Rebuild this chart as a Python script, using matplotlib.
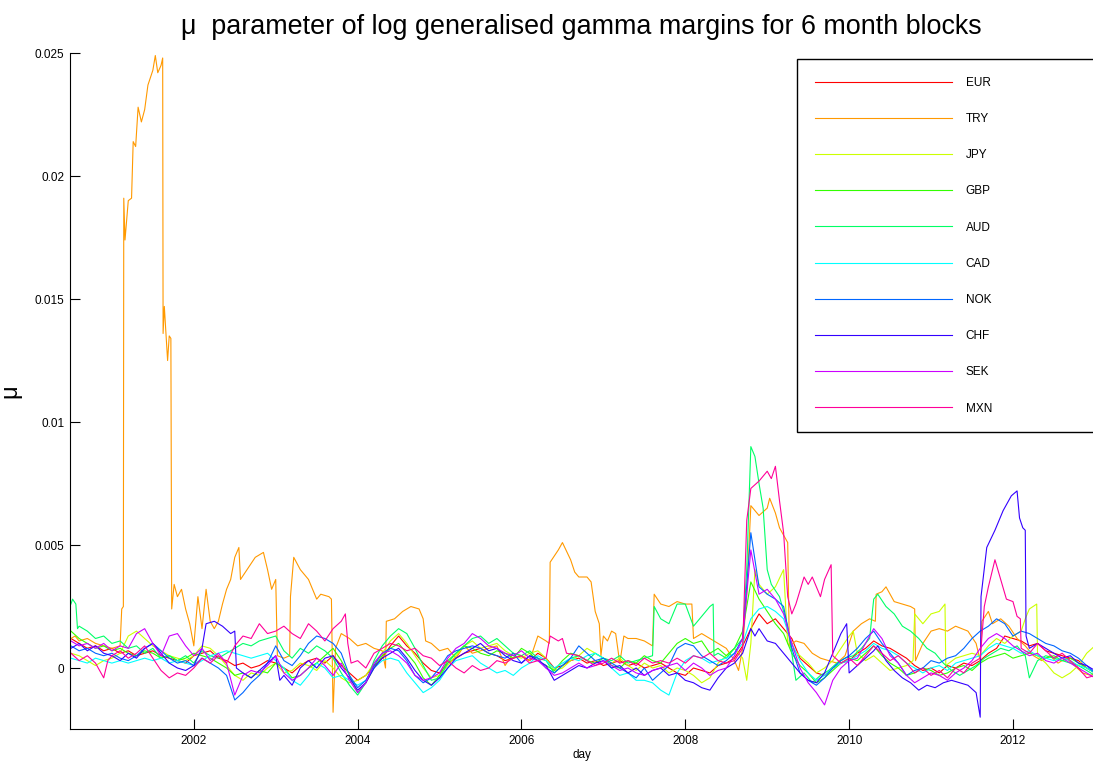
import matplotlib
matplotlib.use("Agg")
import matplotlib.pyplot as plt
import numpy as np
from matplotlib.ticker import FuncFormatter

plt.rcParams['font.family'] = ['Liberation Sans', 'DejaVu Sans']

# mu values in units of 1e-3
currencies = ['EUR', 'TRY', 'JPY', 'GBP', 'AUD', 'CAD', 'NOK', 'CHF', 'SEK', 'MXN']
colors = ['#ff0000', '#ff9900', '#ccff00', '#33ff00', '#00ff66',
          '#00ffff', '#0066ff', '#3300ff', '#cc00ff', '#ff0099']

# sampling dates (decimal years) for the quieter series
grid = np.round(np.arange(2000.5, 2013.0001, 0.1), 2)

eur = [1.2, 1.0, 0.8, 0.9, 0.7, 0.8, 0.6, 0.7, 0.5, 0.6,
       0.7, 0.5, 0.4, 0.3, 0.2, 0.5, 0.6, 0.7, 0.4, 0.3,
       0.1, 0.2, 0.0, 0.1, 0.3, 0.2, 0.0, -0.2, 0.1, 0.3,
       0.4, 0.2, 0.5, 0.1, -0.2, -0.5, -0.3, 0.1, 0.4, 0.9,
       1.3, 0.9, 0.6, 0.2, -0.1, -0.2, 0.2, 0.4, 0.6, 0.7,
       0.8, 0.6, 0.5, 0.3, 0.4, 0.5, 0.3, 0.6, 0.4, 0.0,
       0.1, 0.3, 0.4, 0.2, 0.3, 0.1, 0.2, 0.3, 0.1, 0.2,
       0.0, 0.1, 0.2, 0.0, -0.2, -0.3, 0.0, -0.1, -0.2, 0.1,
       0.2, 0.4, 0.9, 1.6, 2.2, 1.8, 2.0, 1.6, 1.2, 0.4,
       0.1, -0.2, -0.3, 0.0, 0.2, 0.3, 0.6, 0.8, 1.1, 0.9,
       0.8, 0.6, 0.4, 0.1, -0.1, 0.0, -0.2, 0.1, 0.0, 0.2,
       0.1, 0.3, 0.6, 0.8, 1.3, 1.2, 1.1, 0.9, 1.0, 0.7,
       0.6, 0.5, 0.4, 0.3, 0.0, -0.2]

gbp = [1.5, 1.2, 1.0, 0.8, 0.9, 0.7, 0.8, 0.6, 0.5, 0.7,
       0.6, 0.4, 0.5, 0.3, 0.4, 0.6, 0.5, 0.4, 0.2, 0.0,
       -0.3, -0.2, -0.4, -0.1, -0.2, 0.2, 0.0, -0.4, -0.3, 0.0,
       0.2, 0.5, 0.8, 0.3, -0.3, -1.0, -0.6, 0.0, 0.5, 0.8,
       1.0, 0.6, 0.2, -0.4, -0.7, -0.3, 0.3, 0.6, 0.9, 0.8,
       0.6, 0.5, 0.7, 0.6, 0.4, 0.8, 0.6, 0.3, 0.1, -0.1,
       0.3, 0.6, 0.5, 0.3, 0.2, 0.4, 0.1, 0.0, 0.3, 0.2,
       0.5, 0.3, 0.2, 0.6, 1.0, 1.2, 1.0, 1.1, 0.6, 0.8,
       0.5, 0.8, 1.5, 3.5, 2.8, 2.3, 1.8, 1.4, 0.6, 0.1,
       -0.2, -0.6, -0.4, -0.1, 0.2, 0.4, 0.3, 0.6, 0.9, 0.5,
       0.2, 0.0, -0.3, -0.2, 0.0, -0.1, -0.3, -0.2, 0.0, 0.1,
       -0.1, 0.2, 0.4, 0.5, 0.6, 0.4, 0.5, 0.6, 0.5, 0.4,
       0.5, 0.3, 0.4, 0.2, 0.0, -0.2]

cad = [0.4, 0.3, 0.2, 0.4, 0.3, 0.2, 0.3, 0.2, 0.3, 0.4,
       0.3, 0.4, 0.2, 0.3, 0.2, 0.1, 0.3, 0.5, 0.6, 0.7,
       0.6, 0.5, 0.4, 0.5, 0.6, 0.3, 0.0, -0.5, -0.7, -0.3,
       0.2, 0.0, -0.4, -0.3, -0.5, -0.7, -0.5, 0.0, 0.3, 0.4,
       0.3, -0.2, -0.6, -1.0, -0.8, -0.5, 0.0, 0.3, 0.4, 0.5,
       0.2, 0.0, -0.2, -0.1, -0.3, 0.0, 0.2, 0.5, 0.3, 0.0,
       0.2, 0.4, 0.3, 0.5, 0.6, 0.4, 0.0, -0.3, -0.2, -0.5,
       -0.5, -0.6, -0.9, -1.1, -0.2, 0.3, 0.5, 0.4, 0.2, 0.3,
       0.4, 0.6, 1.0, 2.0, 2.4, 2.5, 2.3, 2.0, 1.0, 0.3,
       -0.2, -0.5, -0.3, 0.0, 0.2, 0.3, 0.5, 0.7, 1.0, 0.8,
       0.7, 0.5, 0.2, 0.0, -0.2, 0.0, 0.1, -0.1, 0.2, 0.3,
       0.4, 0.5, 0.8, 1.0, 0.9, 0.8, 0.6, 0.7, 0.5, 0.4,
       0.3, 0.4, 0.3, 0.1, 0.0, -0.2]

nok = [0.9, 0.7, 0.8, 0.6, 0.5, 0.6, 0.4, 0.3, 0.5, 0.8,
       1.0, 0.7, 0.4, 0.2, 0.3, 0.1, 0.4, 0.2, 0.0, -0.3,
       -1.3, -1.0, -0.6, -0.3, 0.2, 0.9, 0.3, 0.1, 0.5, 1.0,
       1.3, 1.2, 1.0, 0.6, -0.3, -0.8, -0.5, 0.1, 0.6, 0.8,
       0.7, 0.3, -0.3, -0.6, -0.4, 0.0, 0.5, 0.7, 0.8, 0.9,
       0.8, 0.6, 0.5, 0.4, 0.6, 0.2, 0.5, 0.4, 0.0, -0.2,
       0.1, 0.4, 0.9, 0.6, 0.3, 0.4, 0.2, 0.0, -0.2, -0.4,
       0.0, -0.5, -0.2, 0.1, 0.8, 1.0, 0.9, 0.5, 0.3, 0.1,
       0.3, 0.6, 1.2, 5.5, 3.3, 3.0, 2.8, 2.5, 0.8, -0.2,
       -0.5, -0.7, -0.4, 0.0, 0.3, 0.5, 0.8, 1.2, 1.5, 1.0,
       0.6, 0.2, -0.3, -0.1, 0.0, 0.3, 0.2, 0.4, 0.5, 0.8,
       1.2, 1.5, 1.7, 2.0, 1.8, 1.3, 1.5, 1.4, 1.2, 1.0,
       0.9, 0.7, 0.6, 0.4, 0.1, -0.2]

sek = [1.1, 0.9, 1.0, 0.8, 1.0, 0.7, 0.9, 0.8, 1.4, 1.6,
       1.0, 0.5, 1.3, 1.4, 0.9, 0.5, 0.8, 0.3, 0.6, 0.2,
       -1.1, -0.3, -0.1, -0.2, 0.1, 0.5, -0.2, -0.5, -0.3, 0.0,
       0.4, 0.1, -0.3, 0.2, -0.5, -1.0, -0.6, 0.2, 0.6, 0.7,
       0.5, 0.2, -0.3, -0.5, -0.4, -0.2, 0.4, 0.8, 1.0, 1.4,
       1.2, 0.9, 0.8, 0.6, 0.5, 0.7, 0.4, 0.3, 0.0, -0.3,
       -0.2, 0.0, 0.2, 0.0, 0.1, 0.3, 0.1, -0.1, 0.0, -0.2,
       -0.3, -0.1, 0.0, 0.1, 0.2, -0.1, 0.2, 0.0, -0.3, -0.1,
       0.0, 0.5, 1.2, 4.8, 3.0, 3.2, 2.8, 2.2, 1.0, 0.0,
       -0.6, -1.0, -1.5, -0.5, 0.0, 0.3, 0.4, 1.0, 1.6, 1.2,
       0.5, 0.2, -0.3, -0.6, -0.4, -0.2, -0.3, -0.5, -0.2, 0.0,
       0.3, 0.8, 1.2, 1.4, 1.2, 0.9, 0.7, 0.5, 0.6, 0.3,
       0.2, 0.4, 0.2, 0.0, -0.2, -0.4]

# series with jumps: (year, value) pairs
try_pts = [(2000.5, 1.2), (2000.55, 1.3), (2000.6, 1.1), (2000.7, 1.2), (2000.8, 1.0),
           (2000.9, 0.9), (2001.0, 0.8), (2001.1, 0.9), (2001.12, 2.4), (2001.14, 2.5),
           (2001.145, 19.1), (2001.16, 17.4), (2001.18, 18.2), (2001.2, 19.0), (2001.24, 19.1),
           (2001.26, 21.4), (2001.29, 21.2), (2001.32, 22.8), (2001.36, 22.2), (2001.4, 22.7),
           (2001.44, 23.7), (2001.48, 24.1), (2001.5, 24.3), (2001.53, 24.9), (2001.56, 24.2),
           (2001.6, 24.5), (2001.62, 24.8), (2001.625, 13.6), (2001.64, 14.7), (2001.68, 12.5),
           (2001.7, 13.5), (2001.72, 13.4), (2001.73, 2.4), (2001.76, 3.4), (2001.8, 2.9),
           (2001.85, 3.2), (2001.9, 2.4), (2001.95, 1.8), (2002.0, 0.9), (2002.05, 2.9),
           (2002.1, 1.6), (2002.15, 3.2), (2002.2, 1.9), (2002.25, 1.6), (2002.3, 1.9),
           (2002.35, 2.6), (2002.4, 3.2), (2002.45, 3.6), (2002.5, 4.5), (2002.55, 4.9),
           (2002.57, 3.6), (2002.65, 4.0), (2002.75, 4.5), (2002.85, 4.7), (2002.9, 4.0),
           (2002.95, 3.2), (2003.0, 3.6), (2003.02, 0.5), (2003.1, 0.4), (2003.17, 0.5),
           (2003.18, 2.9), (2003.22, 4.5), (2003.3, 4.0), (2003.4, 3.6), (2003.5, 2.8),
           (2003.55, 3.0), (2003.65, 2.9), (2003.68, 2.8), (2003.7, -1.8), (2003.73, 0.8),
           (2003.8, 1.4), (2003.9, 1.2), (2004.0, 0.9), (2004.1, 1.0), (2004.2, 0.8),
           (2004.3, 0.7), (2004.34, 0.0), (2004.35, 1.9), (2004.45, 2.0), (2004.55, 2.3),
           (2004.65, 2.5), (2004.75, 2.4), (2004.8, 2.0), (2004.83, 1.1), (2004.9, 1.0),
           (2005.0, 0.7), (2005.1, 0.8), (2005.2, 0.4), (2005.3, 0.9), (2005.4, 0.6),
           (2005.5, 0.7), (2005.6, 0.8), (2005.7, 0.9), (2005.8, 0.1), (2005.9, 0.6),
           (2006.0, 0.5), (2006.1, 0.3), (2006.2, 1.3), (2006.3, 1.1), (2006.34, 1.0),
           (2006.35, 4.3), (2006.45, 4.8), (2006.5, 5.1), (2006.6, 4.4), (2006.65, 3.9),
           (2006.7, 3.7), (2006.8, 3.7), (2006.85, 3.5), (2006.9, 2.3), (2006.95, 1.8),
           (2006.97, 0.5), (2007.0, 1.3), (2007.05, 1.1), (2007.1, 1.5), (2007.15, 1.4),
           (2007.2, 0.2), (2007.25, 1.3), (2007.3, 1.2), (2007.4, 1.2), (2007.5, 1.1),
           (2007.6, 0.9), (2007.62, 3.0), (2007.7, 2.6), (2007.8, 2.5), (2007.9, 2.7),
           (2008.0, 2.6), (2008.08, 2.6), (2008.1, 1.2), (2008.2, 1.4), (2008.3, 1.2),
           (2008.4, 1.0), (2008.5, 0.8), (2008.6, 0.3), (2008.65, -0.1), (2008.7, 0.8),
           (2008.75, 3.0), (2008.8, 6.6), (2008.9, 6.2), (2009.0, 6.5), (2009.03, 6.9),
           (2009.1, 6.3), (2009.15, 5.7), (2009.25, 5.1), (2009.27, 0.9), (2009.35, 1.1),
           (2009.45, 1.0), (2009.55, 0.6), (2009.65, 0.4), (2009.75, 0.3), (2009.85, 0.2),
           (2009.95, 0.5), (2010.05, 1.5), (2010.15, 1.8), (2010.25, 2.0), (2010.32, 1.9),
           (2010.33, 3.0), (2010.4, 3.1), (2010.45, 3.3), (2010.55, 2.7), (2010.65, 2.6),
           (2010.75, 2.5), (2010.8, 2.4), (2010.81, 0.3), (2010.9, 1.0), (2011.0, 1.5),
           (2011.1, 1.6), (2011.2, 1.5), (2011.3, 1.7), (2011.45, 1.5), (2011.55, 1.0),
           (2011.6, 0.3), (2011.62, 1.9), (2011.7, 2.3), (2011.75, 1.8), (2011.85, 2.0),
           (2011.95, 1.7), (2012.05, 1.2), (2012.15, 0.9), (2012.25, 0.5), (2012.35, 0.3),
           (2012.45, 0.5), (2012.55, 0.2), (2012.65, 0.4), (2012.75, 0.1), (2012.85, -0.2),
           (2012.95, -0.3), (2013.0, -0.2)]

jpy_pts = [(2000.5, 0.6), (2000.6, 0.5), (2000.7, 0.3), (2000.8, 0.1), (2000.9, 0.3),
           (2001.0, 0.4), (2001.1, 0.6), (2001.2, 1.3), (2001.3, 1.5), (2001.4, 1.2),
           (2001.5, 0.9), (2001.6, 0.7), (2001.7, 0.5), (2001.8, 0.4), (2001.9, 0.3),
           (2002.0, 0.5), (2002.1, 0.9), (2002.2, 0.8), (2002.3, 0.5), (2002.4, 0.1),
           (2002.5, -0.3), (2002.6, -0.5), (2002.7, -0.2), (2002.8, -0.3), (2002.9, 0.0),
           (2003.0, 0.2), (2003.1, -0.2), (2003.2, -0.1), (2003.3, 0.2), (2003.4, 0.1),
           (2003.5, -0.1), (2003.6, 0.3), (2003.7, 0.0), (2003.8, -0.4), (2003.9, -0.6),
           (2004.0, -0.5), (2004.1, -0.3), (2004.2, 0.2), (2004.3, 0.6), (2004.4, 1.1),
           (2004.5, 1.4), (2004.6, 1.0), (2004.7, 0.5), (2004.8, 0.0), (2004.9, -0.4),
           (2005.0, -0.3), (2005.1, 0.1), (2005.2, 0.5), (2005.3, 0.9), (2005.4, 1.1),
           (2005.5, 0.8), (2005.6, 0.9), (2005.7, 1.0), (2005.8, 0.7), (2005.9, 0.5),
           (2006.0, 0.4), (2006.1, 0.6), (2006.2, 0.7), (2006.3, 0.4), (2006.4, -0.1),
           (2006.5, 0.0), (2006.6, 0.3), (2006.7, 0.5), (2006.8, 0.8), (2006.9, 0.6),
           (2007.0, 0.4), (2007.1, 0.2), (2007.2, 0.4), (2007.3, 0.1), (2007.4, -0.1),
           (2007.5, 0.2), (2007.6, 0.0), (2007.7, 0.1), (2007.8, -0.2), (2007.9, 0.0),
           (2008.0, -0.1), (2008.1, -0.3), (2008.2, -0.6), (2008.3, -0.4), (2008.4, 0.2),
           (2008.5, 0.5), (2008.6, 0.8), (2008.7, 0.4), (2008.75, -0.5), (2008.8, 1.0),
           (2008.85, 4.0), (2008.9, 3.4), (2009.0, 3.0), (2009.1, 3.3), (2009.2, 4.0),
           (2009.25, 1.0), (2009.3, 0.8), (2009.4, 0.5), (2009.5, 0.2), (2009.6, -0.2),
           (2009.7, 0.0), (2009.8, 0.3), (2009.9, 0.8), (2010.0, 1.3), (2010.05, 1.5),
           (2010.1, 0.6), (2010.2, 0.3), (2010.3, 0.5), (2010.4, 0.2), (2010.5, -0.1),
           (2010.6, 0.0), (2010.7, 0.1), (2010.78, 0.3), (2010.8, 2.2), (2010.9, 1.8),
           (2011.0, 2.2), (2011.1, 2.3), (2011.17, 2.6), (2011.18, 0.1), (2011.3, 0.4),
           (2011.4, 0.5), (2011.5, 0.6), (2011.6, 0.5), (2011.7, 0.9), (2011.8, 1.2),
           (2011.9, 1.0), (2012.0, 1.3), (2012.1, 1.5), (2012.15, 2.0), (2012.2, 2.4),
           (2012.29, 2.6), (2012.3, 0.5), (2012.4, 0.2), (2012.5, -0.2), (2012.6, -0.4),
           (2012.7, -0.2), (2012.8, 0.1), (2012.9, 0.6), (2013.0, 0.9)]

aud_pts = [(2000.5, 2.6), (2000.52, 2.8), (2000.56, 2.6), (2000.58, 1.6), (2000.6, 1.7),
           (2000.7, 1.5), (2000.8, 1.2), (2000.9, 1.3), (2001.0, 1.0), (2001.1, 1.1),
           (2001.2, 0.8), (2001.3, 0.9), (2001.4, 0.6), (2001.5, 0.8), (2001.6, 0.4),
           (2001.7, 0.5), (2001.8, 0.3), (2001.9, 0.5), (2002.0, 0.2), (2002.1, 0.7),
           (2002.2, 0.5), (2002.3, 0.4), (2002.4, 0.6), (2002.5, 0.8), (2002.6, 1.0),
           (2002.7, 0.9), (2002.8, 1.1), (2002.9, 1.2), (2003.0, 1.3), (2003.1, 0.7),
           (2003.2, 0.4), (2003.3, 0.8), (2003.4, 0.6), (2003.5, 0.9), (2003.6, 0.7),
           (2003.7, 0.4), (2003.8, -0.2), (2003.9, -0.7), (2004.0, -1.1), (2004.1, -0.6),
           (2004.2, 0.3), (2004.3, 0.9), (2004.4, 1.3), (2004.5, 1.6), (2004.6, 1.4),
           (2004.7, 0.8), (2004.8, 0.1), (2004.9, -0.5), (2005.0, -0.4), (2005.1, 0.2),
           (2005.2, 0.6), (2005.3, 0.9), (2005.4, 1.2), (2005.5, 1.3), (2005.6, 1.0),
           (2005.7, 1.2), (2005.8, 0.9), (2005.9, 0.6), (2006.0, 0.5), (2006.1, 0.7),
           (2006.2, 0.4), (2006.3, 0.3), (2006.4, -0.2), (2006.5, 0.1), (2006.6, 0.4),
           (2006.7, 0.5), (2006.8, 0.3), (2006.9, 0.6), (2007.0, 0.4), (2007.1, 0.3),
           (2007.2, 0.5), (2007.3, 0.2), (2007.4, 0.3), (2007.5, 0.4), (2007.6, 0.5),
           (2007.62, 2.5), (2007.7, 2.0), (2007.8, 1.8), (2007.9, 2.6), (2008.0, 2.6),
           (2008.1, 1.7), (2008.2, 2.1), (2008.3, 2.5), (2008.34, 2.6), (2008.35, 0.5),
           (2008.4, 0.6), (2008.5, 0.4), (2008.6, 0.8), (2008.7, 1.2), (2008.75, 4.0),
           (2008.8, 9.0), (2008.85, 8.6), (2008.9, 7.5), (2008.95, 6.5), (2009.0, 4.0),
           (2009.05, 3.4), (2009.15, 2.9), (2009.25, 1.7), (2009.35, -0.5), (2009.45, -0.2),
           (2009.55, -0.6), (2009.65, -0.3), (2009.75, -0.1), (2009.85, 0.2), (2009.95, 0.4),
           (2010.05, 0.5), (2010.15, 0.8), (2010.25, 1.2), (2010.3, 2.8), (2010.35, 3.0),
           (2010.45, 2.5), (2010.55, 2.2), (2010.65, 1.7), (2010.75, 1.5), (2010.85, 1.2),
           (2010.95, 0.8), (2011.05, 0.6), (2011.15, 0.2), (2011.25, -0.1), (2011.35, -0.3),
           (2011.45, -0.1), (2011.55, 0.1), (2011.65, 0.4), (2011.75, 0.6), (2011.85, 0.8),
           (2011.95, 0.7), (2012.05, 0.9), (2012.15, 0.5), (2012.2, -0.4), (2012.3, 0.3),
           (2012.4, 0.5), (2012.5, 0.4), (2012.6, 0.3), (2012.7, 0.2), (2012.8, 0.1),
           (2012.9, -0.1), (2013.0, -0.3)]

chf_pts = [(2000.5, 0.8), (2000.6, 1.0), (2000.7, 0.7), (2000.8, 0.9), (2000.9, 0.6),
           (2001.0, 0.5), (2001.1, 0.3), (2001.2, 0.6), (2001.3, 0.4), (2001.4, 0.8),
           (2001.5, 1.0), (2001.6, 0.6), (2001.7, 0.2), (2001.8, 0.0), (2001.9, -0.1),
           (2002.0, 0.1), (2002.1, 0.8), (2002.15, 1.8), (2002.25, 1.9), (2002.35, 1.7),
           (2002.45, 1.4), (2002.5, 1.5), (2002.52, 0.0), (2002.6, -0.2), (2002.7, -0.4),
           (2002.8, -0.1), (2002.9, 0.2), (2003.0, 0.5), (2003.05, -0.5), (2003.1, -0.3),
           (2003.2, -0.7), (2003.3, 0.0), (2003.4, 0.3), (2003.5, 0.0), (2003.6, 0.4),
           (2003.7, 0.5), (2003.8, 0.0), (2003.9, -0.4), (2004.0, -0.9), (2004.1, -0.6),
           (2004.2, 0.0), (2004.3, 0.4), (2004.4, 0.6), (2004.5, 0.8), (2004.6, 0.4),
           (2004.7, -0.1), (2004.8, -0.5), (2004.9, -0.7), (2005.0, -0.4), (2005.1, 0.0),
           (2005.2, 0.4), (2005.3, 0.6), (2005.4, 0.8), (2005.5, 1.0), (2005.6, 0.7),
           (2005.7, 0.8), (2005.8, 0.5), (2005.9, 0.3), (2006.0, 0.2), (2006.1, 0.5),
           (2006.2, 0.3), (2006.3, 0.1), (2006.4, -0.5), (2006.5, -0.3), (2006.6, -0.1),
           (2006.7, 0.1), (2006.8, 0.0), (2006.9, 0.2), (2007.0, 0.3), (2007.1, 0.0),
           (2007.2, 0.1), (2007.3, -0.2), (2007.4, 0.0), (2007.5, -0.3), (2007.6, -0.1),
           (2007.7, 0.0), (2007.8, -0.3), (2007.9, -0.2), (2008.0, -0.5), (2008.1, -0.6),
           (2008.2, -0.8), (2008.3, -0.9), (2008.4, -0.4), (2008.5, 0.0), (2008.6, 0.2),
           (2008.7, 0.6), (2008.8, 1.6), (2008.85, 1.3), (2008.9, 1.6), (2009.0, 1.1),
           (2009.1, 1.0), (2009.2, 0.6), (2009.3, 0.2), (2009.4, -0.2), (2009.5, -0.5),
           (2009.6, -0.6), (2009.7, -0.2), (2009.8, 0.6), (2009.9, 1.4), (2009.97, 1.8),
           (2010.0, -0.2), (2010.1, 0.1), (2010.2, 0.4), (2010.3, 0.7), (2010.35, 0.9),
           (2010.45, 0.3), (2010.55, -0.1), (2010.65, -0.4), (2010.75, -0.6), (2010.85, -0.9),
           (2010.95, -0.7), (2011.05, -0.8), (2011.15, -0.6), (2011.25, -0.5), (2011.35, -0.6),
           (2011.45, -0.7), (2011.55, -1.0), (2011.6, -2.0), (2011.61, 2.9), (2011.68, 4.9),
           (2011.78, 5.6), (2011.88, 6.4), (2011.98, 7.0), (2012.05, 7.2), (2012.08, 6.1),
           (2012.12, 5.7), (2012.15, 5.6), (2012.16, 1.3), (2012.2, 0.8), (2012.3, 1.0),
           (2012.4, 0.8), (2012.5, 0.6), (2012.6, 0.4), (2012.7, 0.5), (2012.8, 0.2),
           (2012.9, 0.1), (2013.0, -0.1)]

mxn_pts = [(2000.5, 0.6), (2000.6, 0.3), (2000.7, 0.5), (2000.8, 0.2), (2000.9, -0.4),
           (2000.95, 0.3), (2001.0, 0.5), (2001.1, 0.7), (2001.2, 0.4), (2001.3, 0.6),
           (2001.4, 0.9), (2001.5, 0.4), (2001.6, -0.1), (2001.7, -0.4), (2001.8, -0.2),
           (2001.9, -0.3), (2002.0, 0.0), (2002.1, 0.4), (2002.2, 0.2), (2002.3, 0.5),
           (2002.4, 0.2), (2002.5, 0.9), (2002.6, 1.3), (2002.7, 1.2), (2002.8, 1.8),
           (2002.9, 1.4), (2003.0, 1.5), (2003.1, 1.7), (2003.2, 1.4), (2003.3, 1.2),
           (2003.4, 1.8), (2003.5, 1.5), (2003.6, 1.1), (2003.7, 1.6), (2003.8, 1.9),
           (2003.85, 2.2), (2003.88, 1.0), (2003.92, 0.2), (2004.0, 0.3), (2004.1, 0.0),
           (2004.2, 0.6), (2004.3, 0.8), (2004.4, 1.0), (2004.5, 0.9), (2004.6, 0.7),
           (2004.7, 0.8), (2004.8, 0.5), (2004.9, 0.4), (2005.0, 0.1), (2005.1, 0.3),
           (2005.2, 0.0), (2005.3, -0.2), (2005.4, 0.1), (2005.5, -0.1), (2005.6, 0.0),
           (2005.7, 0.3), (2005.8, 0.2), (2005.9, 0.4), (2006.0, 0.5), (2006.1, 0.2),
           (2006.2, 0.3), (2006.3, 0.4), (2006.35, 1.3), (2006.45, 1.1), (2006.5, 1.2),
           (2006.55, 0.6), (2006.7, 0.5), (2006.8, 0.3), (2006.9, 0.1), (2007.0, 0.2),
           (2007.1, 0.4), (2007.2, 0.2), (2007.3, 0.3), (2007.4, 0.1), (2007.5, 0.4),
           (2007.6, 0.2), (2007.7, 0.3), (2007.8, 0.2), (2007.9, 0.4), (2008.0, 0.2),
           (2008.1, 0.5), (2008.2, 0.4), (2008.3, 0.6), (2008.4, 0.3), (2008.5, 0.2),
           (2008.6, 0.3), (2008.7, 0.8), (2008.75, 6.0), (2008.8, 7.3), (2008.9, 7.6),
           (2009.0, 8.0), (2009.05, 7.7), (2009.1, 8.2), (2009.15, 6.8), (2009.2, 5.5),
           (2009.25, 2.9), (2009.3, 2.2), (2009.35, 2.6), (2009.45, 3.7), (2009.5, 3.4),
           (2009.55, 3.7), (2009.65, 2.9), (2009.7, 3.6), (2009.78, 4.2), (2009.8, 0.5),
           (2009.9, 0.2), (2010.0, 0.4), (2010.1, 0.1), (2010.2, 0.5), (2010.3, 0.9),
           (2010.4, 0.6), (2010.5, 0.3), (2010.6, 0.5), (2010.7, 0.2), (2010.8, -0.2),
           (2010.9, 0.0), (2011.0, -0.3), (2011.1, -0.1), (2011.2, -0.4), (2011.3, 0.0),
           (2011.4, -0.2), (2011.5, 0.2), (2011.6, 0.4), (2011.65, 2.5), (2011.7, 3.3),
           (2011.78, 4.4), (2011.85, 3.6), (2011.92, 2.8), (2012.0, 2.7), (2012.05, 2.1),
           (2012.09, 2.0), (2012.1, 0.8), (2012.2, 0.6), (2012.3, 1.0), (2012.4, 0.7),
           (2012.5, 0.4), (2012.6, 0.6), (2012.7, 0.3), (2012.8, 0.0), (2012.9, -0.4),
           (2013.0, -0.3)]

yticks = [0, 0.005, 0.01, 0.015, 0.02, 0.025]
xticks = [2002, 2004, 2006, 2008, 2010, 2012]


def split(pts):
    x, y = zip(*pts)
    return np.array(x), np.array(y)


series = {
    'EUR': (grid, np.array(eur)),
    'TRY': split(try_pts),
    'JPY': split(jpy_pts),
    'GBP': (grid, np.array(gbp)),
    'AUD': split(aud_pts),
    'CAD': (grid, np.array(cad)),
    'NOK': (grid, np.array(nok)),
    'CHF': split(chf_pts),
    'SEK': (grid, np.array(sek)),
    'MXN': split(mxn_pts),
}

fig = plt.figure(figsize=(10.93, 7.69), dpi=100)
ax = fig.add_axes([0.064, 0.052, 0.936, 0.879])

for name, col in zip(currencies, colors):
    x, y = series[name]
    ax.plot(x, y * 1e-3, color=col, lw=0.8, label=name)

ax.set_xlim(2000.488, 2012.977)
ax.set_ylim(-0.00248, 0.025)
ax.set_xticks(xticks)
ax.set_yticks(yticks)
ax.yaxis.set_major_formatter(FuncFormatter(lambda v, p: '%g' % v))
ax.xaxis.set_major_formatter(FuncFormatter(lambda v, p: '%d' % v))
ax.tick_params(direction='in', length=7, width=0.8, labelsize=8.5, pad=4)
ax.spines['top'].set_visible(False)
ax.spines['right'].set_visible(False)

ax.set_title('\u03bc  parameter of log generalised gamma margins for 6 month blocks',
             fontsize=19.4, pad=14)
ax.set_xlabel('day', fontsize=8.5, labelpad=2)
ax.set_ylabel('\u03bc', fontsize=17)
ax.yaxis.set_label_coords(-0.047, 0.5)

leg = ax.legend(loc='upper left', bbox_to_anchor=(797 / 1093, 0, 0.3, 1 - 59 / 769),
                bbox_transform=fig.transFigure, mode='expand', borderaxespad=0,
                fontsize=8.5, handlelength=11.6, handletextpad=1.2,
                labelspacing=2.05, borderpad=1.5, fancybox=False, framealpha=1)
leg.get_frame().set_edgecolor('black')
leg.get_frame().set_linewidth(1.0)

fig.savefig('out.png', dpi=100)
